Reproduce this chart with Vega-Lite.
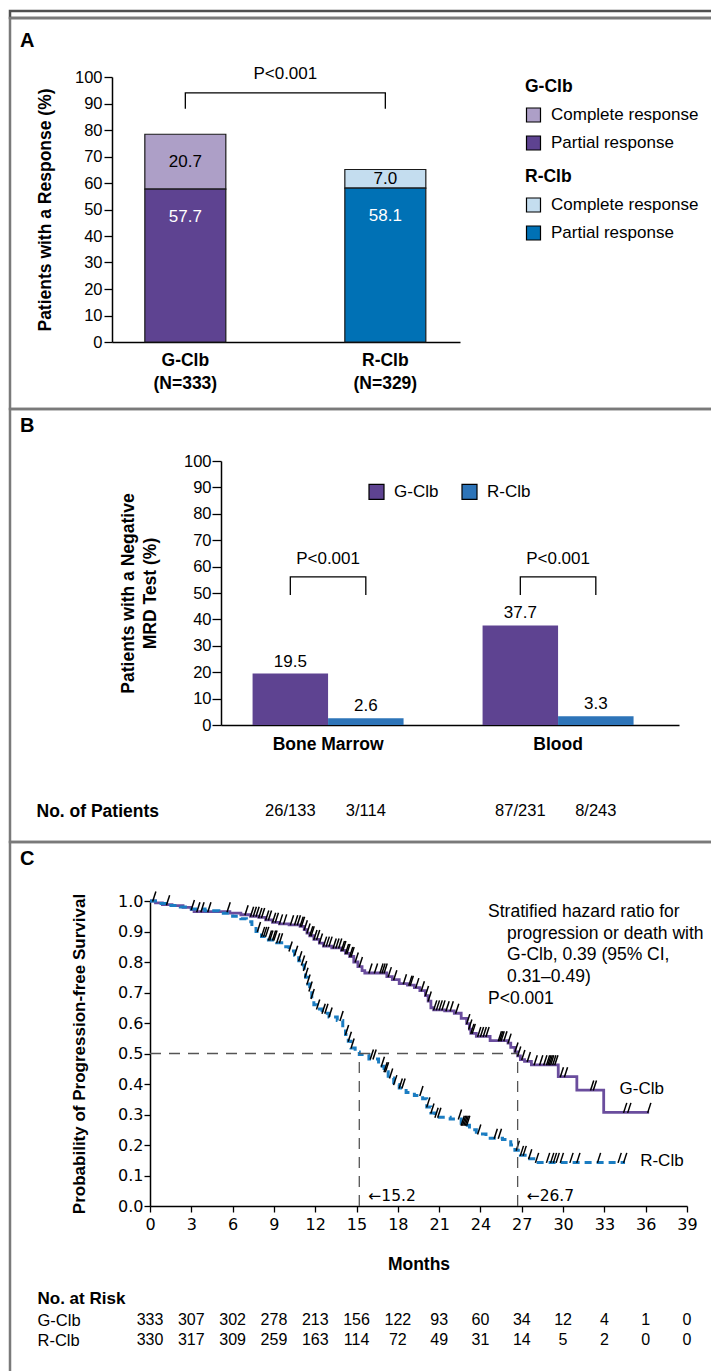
{
"$schema":"https://vega.github.io/schema/vega-lite/v6.json",
"background":"white",
"padding":{"left":8,"top":7,"right":0,"bottom":0},
"spacing":0,
"bounds":"flush",
"align":"each",
"config":{
 "font":"Liberation Sans",
 "view":{"stroke":"#7a7a7a","strokeWidth":2.5},
 "axis":{"grid":false,"domainColor":"#000","tickColor":"#000","labelColor":"#000","titleColor":"#000","domainWidth":1.5,"tickWidth":1.3,"labelFont":"Liberation Sans","titleFont":"Liberation Sans","labelFontSize":16.5,"labelOverlap":false,"labelFlush":false},
 "legend":{"labelFont":"Liberation Sans","titleFont":"Liberation Sans","labelColor":"#000","titleColor":"#000"},
 "title":{"font":"Liberation Sans","color":"#000"},
 "text":{"font":"Liberation Sans","color":"#000","baseline":"middle"}
},
"datasets":{
"km":[
{"arm":"G-Clb","t":0,"s":1,"c":0},{"arm":"G-Clb","t":0.3,"s":1,"c":1},{"arm":"G-Clb","t":0.4,"s":0.994,"c":0},{"arm":"G-Clb","t":0.9,"s":0.988,"c":0},{"arm":"G-Clb","t":1.3,"s":0.988,"c":1},{"arm":"G-Clb","t":1.6,"s":0.985,"c":0},{"arm":"G-Clb","t":2.4,"s":0.979,"c":0},{"arm":"G-Clb","t":3.0,"s":0.972,"c":0},{"arm":"G-Clb","t":3.1,"s":0.972,"c":1},{"arm":"G-Clb","t":3.2,"s":0.965,"c":0},{"arm":"G-Clb","t":3.5,"s":0.965,"c":1},{"arm":"G-Clb","t":3.8,"s":0.965,"c":1},{"arm":"G-Clb","t":4.3,"s":0.965,"c":1},{"arm":"G-Clb","t":5.7,"s":0.965,"c":1},{"arm":"G-Clb","t":5.8,"s":0.96,"c":0},{"arm":"G-Clb","t":6.6,"s":0.955,"c":0},{"arm":"G-Clb","t":7.0,"s":0.955,"c":1},{"arm":"G-Clb","t":7.3,"s":0.95,"c":0},{"arm":"G-Clb","t":7.4,"s":0.95,"c":1},{"arm":"G-Clb","t":7.6,"s":0.95,"c":1},{"arm":"G-Clb","t":7.8,"s":0.95,"c":1},{"arm":"G-Clb","t":7.9,"s":0.946,"c":0},{"arm":"G-Clb","t":8.0,"s":0.946,"c":1},{"arm":"G-Clb","t":8.2,"s":0.946,"c":1},{"arm":"G-Clb","t":8.4,"s":0.938,"c":0},{"arm":"G-Clb","t":8.5,"s":0.938,"c":1},{"arm":"G-Clb","t":8.7,"s":0.938,"c":1},{"arm":"G-Clb","t":8.9,"s":0.93,"c":0},{"arm":"G-Clb","t":9.0,"s":0.93,"c":1},{"arm":"G-Clb","t":9.2,"s":0.93,"c":1},{"arm":"G-Clb","t":9.4,"s":0.925,"c":0},{"arm":"G-Clb","t":9.5,"s":0.925,"c":1},{"arm":"G-Clb","t":9.8,"s":0.925,"c":1},{"arm":"G-Clb","t":10.1,"s":0.922,"c":0},{"arm":"G-Clb","t":10.3,"s":0.922,"c":1},{"arm":"G-Clb","t":10.6,"s":0.922,"c":1},{"arm":"G-Clb","t":10.8,"s":0.922,"c":1},{"arm":"G-Clb","t":10.9,"s":0.917,"c":0},{"arm":"G-Clb","t":11.0,"s":0.917,"c":1},{"arm":"G-Clb","t":11.1,"s":0.917,"c":1},{"arm":"G-Clb","t":11.2,"s":0.906,"c":0},{"arm":"G-Clb","t":11.3,"s":0.906,"c":1},{"arm":"G-Clb","t":11.4,"s":0.895,"c":0},{"arm":"G-Clb","t":11.5,"s":0.895,"c":1},{"arm":"G-Clb","t":11.6,"s":0.886,"c":0},{"arm":"G-Clb","t":11.7,"s":0.886,"c":1},{"arm":"G-Clb","t":11.8,"s":0.886,"c":1},{"arm":"G-Clb","t":11.9,"s":0.874,"c":0},{"arm":"G-Clb","t":12.0,"s":0.874,"c":1},{"arm":"G-Clb","t":12.2,"s":0.874,"c":1},{"arm":"G-Clb","t":12.3,"s":0.862,"c":0},{"arm":"G-Clb","t":12.4,"s":0.862,"c":1},{"arm":"G-Clb","t":12.6,"s":0.852,"c":0},{"arm":"G-Clb","t":12.7,"s":0.852,"c":1},{"arm":"G-Clb","t":12.9,"s":0.852,"c":1},{"arm":"G-Clb","t":13.1,"s":0.852,"c":1},{"arm":"G-Clb","t":13.2,"s":0.846,"c":0},{"arm":"G-Clb","t":13.4,"s":0.846,"c":1},{"arm":"G-Clb","t":13.6,"s":0.846,"c":1},{"arm":"G-Clb","t":13.8,"s":0.846,"c":1},{"arm":"G-Clb","t":13.9,"s":0.838,"c":0},{"arm":"G-Clb","t":14.0,"s":0.838,"c":1},{"arm":"G-Clb","t":14.1,"s":0.838,"c":1},{"arm":"G-Clb","t":14.2,"s":0.828,"c":0},{"arm":"G-Clb","t":14.3,"s":0.828,"c":1},{"arm":"G-Clb","t":14.4,"s":0.828,"c":1},{"arm":"G-Clb","t":14.5,"s":0.818,"c":0},{"arm":"G-Clb","t":14.6,"s":0.818,"c":1},{"arm":"G-Clb","t":14.7,"s":0.818,"c":1},{"arm":"G-Clb","t":14.8,"s":0.8,"c":0},{"arm":"G-Clb","t":15.0,"s":0.8,"c":1},{"arm":"G-Clb","t":15.1,"s":0.785,"c":0},{"arm":"G-Clb","t":15.3,"s":0.785,"c":1},{"arm":"G-Clb","t":15.4,"s":0.772,"c":0},{"arm":"G-Clb","t":15.6,"s":0.764,"c":0},{"arm":"G-Clb","t":16.0,"s":0.764,"c":1},{"arm":"G-Clb","t":16.4,"s":0.764,"c":1},{"arm":"G-Clb","t":16.8,"s":0.764,"c":1},{"arm":"G-Clb","t":16.95,"s":0.764,"c":1},{"arm":"G-Clb","t":17.1,"s":0.764,"c":1},{"arm":"G-Clb","t":17.2,"s":0.752,"c":0},{"arm":"G-Clb","t":17.4,"s":0.752,"c":1},{"arm":"G-Clb","t":17.6,"s":0.742,"c":0},{"arm":"G-Clb","t":17.8,"s":0.742,"c":1},{"arm":"G-Clb","t":18.1,"s":0.729,"c":0},{"arm":"G-Clb","t":18.5,"s":0.729,"c":1},{"arm":"G-Clb","t":18.7,"s":0.724,"c":0},{"arm":"G-Clb","t":18.9,"s":0.724,"c":1},{"arm":"G-Clb","t":19.0,"s":0.724,"c":1},{"arm":"G-Clb","t":19.2,"s":0.716,"c":0},{"arm":"G-Clb","t":19.4,"s":0.716,"c":1},{"arm":"G-Clb","t":19.6,"s":0.706,"c":0},{"arm":"G-Clb","t":19.8,"s":0.706,"c":1},{"arm":"G-Clb","t":20.0,"s":0.69,"c":0},{"arm":"G-Clb","t":20.1,"s":0.69,"c":1},{"arm":"G-Clb","t":20.2,"s":0.672,"c":0},{"arm":"G-Clb","t":20.3,"s":0.672,"c":1},{"arm":"G-Clb","t":20.4,"s":0.65,"c":0},{"arm":"G-Clb","t":20.6,"s":0.643,"c":0},{"arm":"G-Clb","t":20.7,"s":0.643,"c":1},{"arm":"G-Clb","t":20.9,"s":0.643,"c":1},{"arm":"G-Clb","t":21.1,"s":0.643,"c":1},{"arm":"G-Clb","t":21.3,"s":0.643,"c":1},{"arm":"G-Clb","t":21.4,"s":0.64,"c":0},{"arm":"G-Clb","t":21.6,"s":0.64,"c":1},{"arm":"G-Clb","t":21.9,"s":0.64,"c":1},{"arm":"G-Clb","t":22.1,"s":0.632,"c":0},{"arm":"G-Clb","t":22.3,"s":0.632,"c":1},{"arm":"G-Clb","t":22.6,"s":0.615,"c":0},{"arm":"G-Clb","t":23.0,"s":0.598,"c":0},{"arm":"G-Clb","t":23.1,"s":0.598,"c":1},{"arm":"G-Clb","t":23.2,"s":0.58,"c":0},{"arm":"G-Clb","t":23.25,"s":0.58,"c":1},{"arm":"G-Clb","t":23.3,"s":0.566,"c":0},{"arm":"G-Clb","t":23.4,"s":0.566,"c":1},{"arm":"G-Clb","t":23.5,"s":0.566,"c":1},{"arm":"G-Clb","t":23.7,"s":0.556,"c":0},{"arm":"G-Clb","t":23.9,"s":0.556,"c":1},{"arm":"G-Clb","t":24.1,"s":0.556,"c":1},{"arm":"G-Clb","t":24.3,"s":0.556,"c":1},{"arm":"G-Clb","t":24.5,"s":0.556,"c":1},{"arm":"G-Clb","t":24.7,"s":0.542,"c":0},{"arm":"G-Clb","t":25.4,"s":0.542,"c":1},{"arm":"G-Clb","t":25.5,"s":0.542,"c":1},{"arm":"G-Clb","t":25.6,"s":0.542,"c":1},{"arm":"G-Clb","t":25.8,"s":0.542,"c":1},{"arm":"G-Clb","t":26.0,"s":0.534,"c":0},{"arm":"G-Clb","t":26.1,"s":0.534,"c":1},{"arm":"G-Clb","t":26.2,"s":0.52,"c":0},{"arm":"G-Clb","t":26.5,"s":0.505,"c":0},{"arm":"G-Clb","t":26.6,"s":0.505,"c":1},{"arm":"G-Clb","t":26.7,"s":0.492,"c":0},{"arm":"G-Clb","t":26.8,"s":0.492,"c":1},{"arm":"G-Clb","t":26.9,"s":0.48,"c":0},{"arm":"G-Clb","t":27.1,"s":0.48,"c":1},{"arm":"G-Clb","t":27.2,"s":0.474,"c":0},{"arm":"G-Clb","t":27.5,"s":0.474,"c":1},{"arm":"G-Clb","t":27.7,"s":0.463,"c":0},{"arm":"G-Clb","t":28.0,"s":0.463,"c":1},{"arm":"G-Clb","t":28.4,"s":0.463,"c":1},{"arm":"G-Clb","t":28.7,"s":0.463,"c":1},{"arm":"G-Clb","t":28.9,"s":0.463,"c":1},{"arm":"G-Clb","t":29.0,"s":0.463,"c":1},{"arm":"G-Clb","t":29.1,"s":0.463,"c":1},{"arm":"G-Clb","t":29.2,"s":0.463,"c":1},{"arm":"G-Clb","t":29.35,"s":0.463,"c":1},{"arm":"G-Clb","t":29.5,"s":0.463,"c":1},{"arm":"G-Clb","t":29.65,"s":0.424,"c":0},{"arm":"G-Clb","t":29.9,"s":0.424,"c":1},{"arm":"G-Clb","t":30.2,"s":0.424,"c":1},{"arm":"G-Clb","t":31.0,"s":0.38,"c":0},{"arm":"G-Clb","t":32.1,"s":0.38,"c":1},{"arm":"G-Clb","t":32.3,"s":0.38,"c":1},{"arm":"G-Clb","t":32.95,"s":0.307,"c":0},{"arm":"G-Clb","t":34.5,"s":0.307,"c":1},{"arm":"G-Clb","t":34.8,"s":0.307,"c":1},{"arm":"G-Clb","t":36.25,"s":0.307,"c":1},
{"arm":"R-Clb","t":0,"s":1,"c":0},{"arm":"R-Clb","t":0.6,"s":0.992,"c":0},{"arm":"R-Clb","t":1.2,"s":0.985,"c":0},{"arm":"R-Clb","t":2.2,"s":0.98,"c":0},{"arm":"R-Clb","t":3.0,"s":0.974,"c":0},{"arm":"R-Clb","t":4.0,"s":0.968,"c":0},{"arm":"R-Clb","t":5.0,"s":0.96,"c":0},{"arm":"R-Clb","t":6.0,"s":0.95,"c":0},{"arm":"R-Clb","t":6.6,"s":0.942,"c":0},{"arm":"R-Clb","t":7.0,"s":0.932,"c":0},{"arm":"R-Clb","t":7.4,"s":0.915,"c":0},{"arm":"R-Clb","t":7.7,"s":0.9,"c":0},{"arm":"R-Clb","t":7.9,"s":0.9,"c":1},{"arm":"R-Clb","t":8.1,"s":0.884,"c":0},{"arm":"R-Clb","t":8.2,"s":0.884,"c":1},{"arm":"R-Clb","t":8.35,"s":0.884,"c":1},{"arm":"R-Clb","t":8.5,"s":0.884,"c":1},{"arm":"R-Clb","t":8.6,"s":0.872,"c":0},{"arm":"R-Clb","t":8.7,"s":0.872,"c":1},{"arm":"R-Clb","t":8.8,"s":0.872,"c":1},{"arm":"R-Clb","t":9.0,"s":0.872,"c":1},{"arm":"R-Clb","t":9.1,"s":0.872,"c":1},{"arm":"R-Clb","t":9.2,"s":0.863,"c":0},{"arm":"R-Clb","t":9.3,"s":0.863,"c":1},{"arm":"R-Clb","t":9.5,"s":0.863,"c":1},{"arm":"R-Clb","t":9.7,"s":0.85,"c":0},{"arm":"R-Clb","t":10.1,"s":0.836,"c":0},{"arm":"R-Clb","t":10.2,"s":0.836,"c":1},{"arm":"R-Clb","t":10.5,"s":0.822,"c":0},{"arm":"R-Clb","t":10.6,"s":0.822,"c":1},{"arm":"R-Clb","t":10.8,"s":0.804,"c":0},{"arm":"R-Clb","t":10.9,"s":0.804,"c":1},{"arm":"R-Clb","t":11.0,"s":0.79,"c":0},{"arm":"R-Clb","t":11.1,"s":0.79,"c":1},{"arm":"R-Clb","t":11.2,"s":0.772,"c":0},{"arm":"R-Clb","t":11.25,"s":0.772,"c":1},{"arm":"R-Clb","t":11.3,"s":0.75,"c":0},{"arm":"R-Clb","t":11.35,"s":0.75,"c":1},{"arm":"R-Clb","t":11.45,"s":0.728,"c":0},{"arm":"R-Clb","t":11.5,"s":0.728,"c":1},{"arm":"R-Clb","t":11.6,"s":0.705,"c":0},{"arm":"R-Clb","t":11.65,"s":0.705,"c":1},{"arm":"R-Clb","t":11.75,"s":0.68,"c":0},{"arm":"R-Clb","t":11.8,"s":0.68,"c":1},{"arm":"R-Clb","t":11.9,"s":0.66,"c":0},{"arm":"R-Clb","t":12.1,"s":0.646,"c":0},{"arm":"R-Clb","t":12.2,"s":0.646,"c":1},{"arm":"R-Clb","t":12.5,"s":0.632,"c":0},{"arm":"R-Clb","t":12.6,"s":0.632,"c":1},{"arm":"R-Clb","t":12.8,"s":0.632,"c":1},{"arm":"R-Clb","t":13.0,"s":0.62,"c":0},{"arm":"R-Clb","t":13.1,"s":0.62,"c":1},{"arm":"R-Clb","t":13.6,"s":0.608,"c":0},{"arm":"R-Clb","t":13.9,"s":0.608,"c":1},{"arm":"R-Clb","t":14.0,"s":0.585,"c":0},{"arm":"R-Clb","t":14.2,"s":0.562,"c":0},{"arm":"R-Clb","t":14.3,"s":0.562,"c":1},{"arm":"R-Clb","t":14.4,"s":0.54,"c":0},{"arm":"R-Clb","t":14.5,"s":0.54,"c":1},{"arm":"R-Clb","t":14.6,"s":0.518,"c":0},{"arm":"R-Clb","t":14.7,"s":0.518,"c":1},{"arm":"R-Clb","t":14.9,"s":0.505,"c":0},{"arm":"R-Clb","t":15.2,"s":0.497,"c":0},{"arm":"R-Clb","t":15.9,"s":0.482,"c":0},{"arm":"R-Clb","t":16.1,"s":0.482,"c":1},{"arm":"R-Clb","t":16.3,"s":0.482,"c":1},{"arm":"R-Clb","t":16.6,"s":0.458,"c":0},{"arm":"R-Clb","t":16.9,"s":0.458,"c":1},{"arm":"R-Clb","t":17.0,"s":0.44,"c":0},{"arm":"R-Clb","t":17.1,"s":0.44,"c":1},{"arm":"R-Clb","t":17.2,"s":0.44,"c":1},{"arm":"R-Clb","t":17.3,"s":0.42,"c":0},{"arm":"R-Clb","t":17.5,"s":0.42,"c":1},{"arm":"R-Clb","t":17.7,"s":0.398,"c":0},{"arm":"R-Clb","t":17.8,"s":0.398,"c":1},{"arm":"R-Clb","t":18.1,"s":0.387,"c":0},{"arm":"R-Clb","t":18.2,"s":0.387,"c":1},{"arm":"R-Clb","t":18.4,"s":0.387,"c":1},{"arm":"R-Clb","t":18.6,"s":0.372,"c":0},{"arm":"R-Clb","t":19.2,"s":0.362,"c":0},{"arm":"R-Clb","t":19.7,"s":0.362,"c":1},{"arm":"R-Clb","t":19.8,"s":0.352,"c":0},{"arm":"R-Clb","t":20.1,"s":0.325,"c":0},{"arm":"R-Clb","t":20.2,"s":0.325,"c":1},{"arm":"R-Clb","t":20.4,"s":0.305,"c":0},{"arm":"R-Clb","t":20.5,"s":0.305,"c":1},{"arm":"R-Clb","t":20.7,"s":0.291,"c":0},{"arm":"R-Clb","t":20.8,"s":0.291,"c":1},{"arm":"R-Clb","t":21.0,"s":0.291,"c":1},{"arm":"R-Clb","t":21.8,"s":0.285,"c":0},{"arm":"R-Clb","t":22.5,"s":0.285,"c":1},{"arm":"R-Clb","t":22.6,"s":0.265,"c":0},{"arm":"R-Clb","t":22.7,"s":0.265,"c":1},{"arm":"R-Clb","t":22.8,"s":0.265,"c":1},{"arm":"R-Clb","t":22.9,"s":0.265,"c":1},{"arm":"R-Clb","t":23.0,"s":0.265,"c":1},{"arm":"R-Clb","t":23.1,"s":0.265,"c":1},{"arm":"R-Clb","t":23.2,"s":0.25,"c":0},{"arm":"R-Clb","t":23.7,"s":0.236,"c":0},{"arm":"R-Clb","t":23.9,"s":0.236,"c":1},{"arm":"R-Clb","t":24.4,"s":0.222,"c":0},{"arm":"R-Clb","t":25.1,"s":0.222,"c":1},{"arm":"R-Clb","t":25.4,"s":0.222,"c":1},{"arm":"R-Clb","t":25.6,"s":0.218,"c":0},{"arm":"R-Clb","t":26.2,"s":0.2,"c":0},{"arm":"R-Clb","t":26.5,"s":0.183,"c":0},{"arm":"R-Clb","t":26.7,"s":0.183,"c":1},{"arm":"R-Clb","t":26.9,"s":0.166,"c":0},{"arm":"R-Clb","t":27.0,"s":0.166,"c":1},{"arm":"R-Clb","t":27.2,"s":0.166,"c":1},{"arm":"R-Clb","t":27.4,"s":0.155,"c":0},{"arm":"R-Clb","t":27.6,"s":0.155,"c":1},{"arm":"R-Clb","t":28.0,"s":0.143,"c":0},{"arm":"R-Clb","t":28.1,"s":0.143,"c":1},{"arm":"R-Clb","t":28.9,"s":0.143,"c":1},{"arm":"R-Clb","t":29.2,"s":0.143,"c":1},{"arm":"R-Clb","t":29.4,"s":0.143,"c":1},{"arm":"R-Clb","t":29.6,"s":0.143,"c":1},{"arm":"R-Clb","t":29.9,"s":0.143,"c":1},{"arm":"R-Clb","t":30.6,"s":0.143,"c":1},{"arm":"R-Clb","t":31.1,"s":0.143,"c":1},{"arm":"R-Clb","t":32.6,"s":0.143,"c":1},{"arm":"R-Clb","t":34.1,"s":0.143,"c":1},{"arm":"R-Clb","t":34.5,"s":0.143,"c":1}
],
"risk":[
{"arm":"G-Clb","t":0,"n":333},{"arm":"G-Clb","t":3,"n":307},{"arm":"G-Clb","t":6,"n":302},{"arm":"G-Clb","t":9,"n":278},{"arm":"G-Clb","t":12,"n":213},{"arm":"G-Clb","t":15,"n":156},{"arm":"G-Clb","t":18,"n":122},{"arm":"G-Clb","t":21,"n":93},{"arm":"G-Clb","t":24,"n":60},{"arm":"G-Clb","t":27,"n":34},{"arm":"G-Clb","t":30,"n":12},{"arm":"G-Clb","t":33,"n":4},{"arm":"G-Clb","t":36,"n":1},{"arm":"G-Clb","t":39,"n":0},
{"arm":"R-Clb","t":0,"n":330},{"arm":"R-Clb","t":3,"n":317},{"arm":"R-Clb","t":6,"n":309},{"arm":"R-Clb","t":9,"n":259},{"arm":"R-Clb","t":12,"n":163},{"arm":"R-Clb","t":15,"n":114},{"arm":"R-Clb","t":18,"n":72},{"arm":"R-Clb","t":21,"n":49},{"arm":"R-Clb","t":24,"n":31},{"arm":"R-Clb","t":27,"n":14},{"arm":"R-Clb","t":30,"n":5},{"arm":"R-Clb","t":33,"n":2},{"arm":"R-Clb","t":36,"n":0},{"arm":"R-Clb","t":39,"n":0}
]
},
"vconcat":[
{"width":703,"height":7,"view":{"stroke":"#505050","strokeWidth":2.5},"data":{"values":[{}]},"mark":{"type":"text","text":""},"encoding":{}},
{
 "width":703,"height":391,
 "title":{"text":"A","anchor":"start","frame":"group","baseline":"middle","offset":0,"dx":10,"dy":43,"fontSize":20,"fontWeight":"bold"},
 "data":{"values":[
  {"group":"G-Clb","type":"Complete response","value":20.7},
  {"group":"G-Clb","type":"Partial response","value":57.7},
  {"group":"R-Clb","type":"Complete response","value":7.0},
  {"group":"R-Clb","type":"Partial response","value":58.1}]},
 "layer":[
  {"transform":[{"filter":"datum.group == 'G-Clb'"}],
   "mark":{"type":"bar","stroke":"#1a1a1a","strokeWidth":1.2},
   "encoding":{
    "x":{"field":"group","type":"nominal","scale":{"domain":["G-Clb","R-Clb"],"range":[102,450],"paddingInner":0.595,"paddingOuter":0.1675,"align":0.49},
      "axis":{"orient":"bottom","offset":-67,"ticks":false,"tickSize":0,"labelPadding":9,"labelAngle":0,"labelFontSize":17.5,"labelFontWeight":"bold","labelLineHeight":23,"labelExpr":"datum.value == 'G-Clb' ? ['G-Clb', '(N=333)'] : ['R-Clb', '(N=329)']","title":null}},
    "y":{"field":"value","type":"quantitative","stack":"zero","scale":{"domain":[0,100],"range":[324,59],"nice":false},
      "axis":{"orient":"left","offset":-102,"values":[0,10,20,30,40,50,60,70,80,90,100],"tickCount":11,"tickSize":8,"labelPadding":2,"labelFontSize":16.5,"title":"Patients with a Response (%)","titleFontSize":17.5,"titleFontWeight":"bold","titleX":-67,"titleBaseline":"middle"}},
    "color":{"field":"type","type":"nominal","scale":{"domain":["Complete response","Partial response"],"range":["#ad9fc7","#5e4391"]},
      "legend":{"title":"G-Clb","orient":"none","legendX":515,"legendY":60,"symbolType":"square","symbolSize":196,"symbolStrokeColor":"#000","symbolStrokeWidth":1.2,"symbolOpacity":1,"labelFontSize":17,"titleFontSize":17.5,"titleFontWeight":"bold","rowPadding":9,"titlePadding":11,"labelOffset":9,"padding":0}},
    "order":{"field":"type","type":"nominal","sort":"descending"}}},
  {"transform":[{"filter":"datum.group == 'R-Clb'"}],
   "mark":{"type":"bar","stroke":"#1a1a1a","strokeWidth":1.2},
   "encoding":{
    "x":{"field":"group","type":"nominal","scale":{"domain":["G-Clb","R-Clb"],"range":[102,450],"paddingInner":0.595,"paddingOuter":0.1675,"align":0.49},
      "axis":{"orient":"bottom","offset":-67,"ticks":false,"tickSize":0,"labelPadding":9,"labelAngle":0,"labelFontSize":17.5,"labelFontWeight":"bold","labelLineHeight":23,"labelExpr":"datum.value == 'G-Clb' ? ['G-Clb', '(N=333)'] : ['R-Clb', '(N=329)']","title":null}},
    "y":{"field":"value","type":"quantitative","stack":"zero","scale":{"domain":[0,100],"range":[324,59],"nice":false},
      "axis":{"orient":"left","offset":-102,"values":[0,10,20,30,40,50,60,70,80,90,100],"tickCount":11,"tickSize":8,"labelPadding":2,"labelFontSize":16.5,"title":"Patients with a Response (%)","titleFontSize":17.5,"titleFontWeight":"bold","titleX":-67,"titleBaseline":"middle"}},
    "color":{"field":"type","type":"nominal","scale":{"domain":["Complete response","Partial response"],"range":["#c4ddef","#0071b5"]},
      "legend":{"title":"R-Clb","orient":"none","legendX":515,"legendY":150,"symbolType":"square","symbolSize":196,"symbolStrokeColor":"#000","symbolStrokeWidth":1.2,"symbolOpacity":1,"labelFontSize":17,"titleFontSize":17.5,"titleFontWeight":"bold","rowPadding":9,"titlePadding":11,"labelOffset":9,"padding":0}},
    "order":{"field":"type","type":"nominal","sort":"descending"}}},
  {"transform":[{"stack":"value","groupby":["group"],"sort":[{"field":"type","order":"descending"}],"as":["v0","v1"]},{"filter":"datum.type == 'Complete response'"},{"calculate":"(datum.v0 + datum.v1) / 2","as":"mid"}],
   "mark":{"type":"text","fontSize":17},
   "encoding":{
    "x":{"field":"group","type":"nominal","scale":{"domain":["G-Clb","R-Clb"],"range":[102,450],"paddingInner":0.595,"paddingOuter":0.1675,"align":0.49}},
    "y":{"field":"mid","type":"quantitative","scale":{"domain":[0,100],"range":[324,59],"nice":false}},
    "text":{"field":"value","type":"quantitative","format":".1f"}}},
  {"transform":[{"filter":"datum.type == 'Partial response'"}],
   "mark":{"type":"text","fontSize":17,"color":"white","dy":28},
   "encoding":{
    "x":{"field":"group","type":"nominal","scale":{"domain":["G-Clb","R-Clb"],"range":[102,450],"paddingInner":0.595,"paddingOuter":0.1675,"align":0.49}},
    "y":{"field":"value","type":"quantitative","scale":{"domain":[0,100],"range":[324,59],"nice":false}},
    "text":{"field":"value","type":"quantitative","format":".1f"}}},
  {"data":{"values":[{"group":"G-Clb","y":88,"k":1},{"group":"G-Clb","y":94,"k":2},{"group":"R-Clb","y":94,"k":3},{"group":"R-Clb","y":88,"k":4}]},
   "mark":{"type":"line","color":"#000","strokeWidth":1.3},
   "encoding":{
    "x":{"field":"group","type":"nominal","scale":{"domain":["G-Clb","R-Clb"],"range":[102,450],"paddingInner":0.595,"paddingOuter":0.1675,"align":0.49}},
    "y":{"field":"y","type":"quantitative","scale":{"domain":[0,100],"range":[324,59],"nice":false}},
    "order":{"field":"k","type":"quantitative"}}},
  {"data":{"values":[{"group":"G-Clb"}]},
   "mark":{"type":"text","text":"P<0.001","fontSize":17,"dx":100},
   "encoding":{
    "x":{"field":"group","type":"nominal","scale":{"domain":["G-Clb","R-Clb"],"range":[102,450],"paddingInner":0.595,"paddingOuter":0.1675,"align":0.49}},
    "y":{"datum":101.1,"type":"quantitative","scale":{"domain":[0,100],"range":[324,59],"nice":false}}}}
 ],
 "resolve":{"scale":{"color":"independent"}}
},
{
 "width":703,"height":433,
 "title":{"text":"B","anchor":"start","frame":"group","baseline":"middle","offset":0,"dx":10,"dy":36.5,"fontSize":20,"fontWeight":"bold"},
 "data":{"values":[
  {"group":"Bone Marrow","bar":"G-Clb","value":19.5,"n":"26/133"},
  {"group":"Bone Marrow","bar":"R-Clb","value":2.6,"n":"3/114"},
  {"group":"Blood","bar":"G-Clb","value":37.7,"n":"87/231"},
  {"group":"Blood","bar":"R-Clb","value":3.3,"n":"8/243"}]},
 "layer":[
  {"mark":{"type":"bar"},
   "encoding":{
    "x":{"field":"group","type":"nominal","scale":{"domain":["Bone Marrow","Blood"],"range":[211,669],"paddingInner":0.3435,"paddingOuter":0.1674,"align":0.41},
      "axis":{"orient":"bottom","offset":-117,"ticks":false,"tickSize":0,"labelPadding":10,"labelAngle":0,"labelFontSize":17.5,"labelFontWeight":"bold","title":"No. of Patients","titleFontSize":17.5,"titleFontWeight":"bold","titleX":26,"titleY":86,"titleAlign":"left","titleBaseline":"middle","titleAnchor":"start"}},
    "xOffset":{"field":"bar","type":"nominal","scale":{"domain":["G-Clb","R-Clb"],"paddingInner":0,"paddingOuter":0}},
    "y":{"field":"value","type":"quantitative","stack":null,"scale":{"domain":[0,100],"range":[316,52],"nice":false},
      "axis":{"orient":"left","offset":-211,"values":[0,10,20,30,40,50,60,70,80,90,100],"tickSize":9,"labelPadding":1,"labelFontSize":16.5,"title":["Patients with a Negative","MRD Test (%)"],"titleFontSize":17.5,"titleFontWeight":"bold","titleLineHeight":22,"titleX":-93,"titleBaseline":"middle"}},
    "color":{"field":"bar","type":"nominal","scale":{"domain":["G-Clb","R-Clb"],"range":["#5e4391","#2d74b8"]},
      "legend":{"title":null,"orient":"none","legendX":358,"legendY":472,"direction":"horizontal","symbolType":"square","symbolSize":225,"symbolStrokeColor":"#000","symbolStrokeWidth":1.2,"symbolOpacity":1,"labelFontSize":17,"columnPadding":20,"labelOffset":9,"padding":0}}}},
  {"mark":{"type":"text","fontSize":17,"baseline":"bottom","dy":-3},
   "encoding":{
    "x":{"field":"group","type":"nominal","scale":{"domain":["Bone Marrow","Blood"],"range":[211,669],"paddingInner":0.3435,"paddingOuter":0.1674,"align":0.41}},
    "xOffset":{"field":"bar","type":"nominal","scale":{"domain":["G-Clb","R-Clb"],"paddingInner":0,"paddingOuter":0}},
    "y":{"field":"value","type":"quantitative","scale":{"domain":[0,100],"range":[316,52],"nice":false}},
    "text":{"field":"value","type":"quantitative","format":".1f"}}},
  {"mark":{"type":"text","fontSize":16.5},
   "encoding":{
    "x":{"field":"group","type":"nominal","scale":{"domain":["Bone Marrow","Blood"],"range":[211,669],"paddingInner":0.3435,"paddingOuter":0.1674,"align":0.41}},
    "xOffset":{"field":"bar","type":"nominal","scale":{"domain":["G-Clb","R-Clb"],"paddingInner":0,"paddingOuter":0}},
    "y":{"datum":-32.6,"type":"quantitative","scale":{"domain":[0,100],"range":[316,52],"nice":false}},
    "text":{"field":"n","type":"nominal"}}},
  {"data":{"values":[
    {"group":"Bone Marrow","bar":"G-Clb","y":49.2,"k":1},{"group":"Bone Marrow","bar":"G-Clb","y":56.1,"k":2},{"group":"Bone Marrow","bar":"R-Clb","y":56.1,"k":3},{"group":"Bone Marrow","bar":"R-Clb","y":49.2,"k":4},
    {"group":"Blood","bar":"G-Clb","y":49.2,"k":1},{"group":"Blood","bar":"G-Clb","y":56.1,"k":2},{"group":"Blood","bar":"R-Clb","y":56.1,"k":3},{"group":"Blood","bar":"R-Clb","y":49.2,"k":4}]},
   "mark":{"type":"line","color":"#000","strokeWidth":1.3},
   "encoding":{
    "x":{"field":"group","type":"nominal","scale":{"domain":["Bone Marrow","Blood"],"range":[211,669],"paddingInner":0.3435,"paddingOuter":0.1674,"align":0.41}},
    "xOffset":{"field":"bar","type":"nominal","scale":{"domain":["G-Clb","R-Clb"],"paddingInner":0,"paddingOuter":0}},
    "y":{"field":"y","type":"quantitative","scale":{"domain":[0,100],"range":[316,52],"nice":false}},
    "detail":{"field":"group","type":"nominal"},
    "order":{"field":"k","type":"quantitative"}}},
  {"data":{"values":[{"group":"Bone Marrow"},{"group":"Blood"}]},
   "mark":{"type":"text","text":"P<0.001","fontSize":17},
   "encoding":{
    "x":{"field":"group","type":"nominal","scale":{"domain":["Bone Marrow","Blood"],"range":[211,669],"paddingInner":0.3435,"paddingOuter":0.1674,"align":0.41}},
    "y":{"datum":62.9,"type":"quantitative","scale":{"domain":[0,100],"range":[316,52],"nice":false}}}}
 ]
},
{
 "width":703,"height":533,
 "title":{"text":"C","anchor":"start","frame":"group","baseline":"middle","offset":0,"dx":10,"dy":36.5,"fontSize":20,"fontWeight":"bold"},
 "layer":[
  {"data":{"name":"km"},
   "layer":[
    {"transform":[{"filter":"datum.arm == 'G-Clb'"}],
     "mark":{"type":"line","interpolate":"step-after","color":"#6a4d9d","strokeWidth":2.8},
     "encoding":{
      "x":{"field":"t","type":"quantitative","scale":{"domain":[0,39],"range":[140,677],"nice":false,"zero":false},
        "axis":{"orient":"bottom","offset":-169,"values":[0,3,6,9,12,15,18,21,24,27,30,33,36,39],"tickSize":6,"labelPadding":4,"labelFont":"DejaVu Sans","labelFontSize":16,"title":"Months","titleFontSize":17.5,"titleFontWeight":"bold","titleY":58,"titleBaseline":"middle"}},
      "y":{"field":"s","type":"quantitative","scale":{"domain":[0,1],"range":[364,59],"nice":false},
        "axis":{"orient":"left","offset":-140,"values":[0,0.1,0.2,0.3,0.4,0.5,0.6,0.7,0.8,0.9,1],"format":".1f","tickSize":6,"labelPadding":1,"labelFont":"DejaVu Sans","labelFontSize":16,"title":"Probability of Progression-free Survival","titleFontSize":17,"titleFontWeight":"bold","titleX":-71,"titleBaseline":"middle"}}}},
    {"transform":[{"filter":"datum.arm == 'R-Clb'"}],
     "mark":{"type":"line","interpolate":"step-after","color":"#1b7dc2","strokeWidth":3,"strokeDash":[7,5]},
     "encoding":{
      "x":{"field":"t","type":"quantitative","scale":{"domain":[0,39],"range":[140,677],"nice":false,"zero":false}},
      "y":{"field":"s","type":"quantitative","scale":{"domain":[0,1],"range":[364,59],"nice":false}}}},
    {"transform":[{"filter":"datum.c == 1"}],
     "mark":{"type":"point","shape":"M -0.3 0.1 L 0.35 -1.9","filled":false,"color":"#000","strokeWidth":1.5,"size":100,"opacity":1},
     "encoding":{
      "x":{"field":"t","type":"quantitative","scale":{"domain":[0,39],"range":[140,677],"nice":false,"zero":false}},
      "y":{"field":"s","type":"quantitative","scale":{"domain":[0,1],"range":[364,59],"nice":false}}}},
    {"data":{"values":[{"arm":"R-Clb","m":15.2,"lo":0,"hi":0.5},{"arm":"G-Clb","m":26.7,"lo":0,"hi":0.5}]},
     "mark":{"type":"rule","color":"#555","strokeWidth":1.3,"strokeDash":[11,8]},
     "encoding":{
      "x":{"field":"m","type":"quantitative","scale":{"domain":[0,39],"range":[140,677],"nice":false,"zero":false}},
      "y":{"field":"lo","type":"quantitative","scale":{"domain":[0,1],"range":[364,59],"nice":false}},
      "y2":{"field":"hi"}}},
    {"data":{"values":[{"arm":"G-Clb","m":26.7,"start":0,"level":0.5}]},
     "mark":{"type":"rule","color":"#555","strokeWidth":1.3,"strokeDash":[11,8]},
     "encoding":{
      "x":{"field":"start","type":"quantitative","scale":{"domain":[0,39],"range":[140,677],"nice":false,"zero":false}},
      "x2":{"field":"m"},
      "y":{"field":"level","type":"quantitative","scale":{"domain":[0,1],"range":[364,59],"nice":false}}}},
    {"data":{"values":[{"arm":"R-Clb","m":15.2},{"arm":"G-Clb","m":26.7}]},
     "transform":[{"calculate":"'\u2190' + format(datum.m, '.1f')","as":"lab"}],
     "mark":{"type":"text","align":"left","font":"DejaVu Sans","fontSize":15.5,"dx":9},
     "encoding":{
      "x":{"field":"m","type":"quantitative","scale":{"domain":[0,39],"range":[140,677],"nice":false,"zero":false}},
      "y":{"datum":0.033,"type":"quantitative","scale":{"domain":[0,1],"range":[364,59],"nice":false}},
      "text":{"field":"lab","type":"nominal"}}},
    {"data":{"values":[{}]},"mark":{"type":"text","text":"Stratified hazard ratio for","align":"left","fontSize":17.5},
     "encoding":{"x":{"datum":24.55,"type":"quantitative","scale":{"domain":[0,39],"range":[140,677],"nice":false,"zero":false}},"y":{"datum":0.964,"type":"quantitative","scale":{"domain":[0,1],"range":[364,59],"nice":false}}}},
    {"data":{"values":[{}]},"mark":{"type":"text","text":"progression or death with","align":"left","fontSize":17.5},
     "encoding":{"x":{"datum":25.93,"type":"quantitative","scale":{"domain":[0,39],"range":[140,677],"nice":false,"zero":false}},"y":{"datum":0.893,"type":"quantitative","scale":{"domain":[0,1],"range":[364,59],"nice":false}}}},
    {"data":{"values":[{}]},"mark":{"type":"text","text":"G-Clb, 0.39 (95% CI,","align":"left","fontSize":17.5},
     "encoding":{"x":{"datum":25.93,"type":"quantitative","scale":{"domain":[0,39],"range":[140,677],"nice":false,"zero":false}},"y":{"datum":0.822,"type":"quantitative","scale":{"domain":[0,1],"range":[364,59],"nice":false}}}},
    {"data":{"values":[{}]},"mark":{"type":"text","text":"0.31\u20130.49)","align":"left","fontSize":17.5},
     "encoding":{"x":{"datum":25.93,"type":"quantitative","scale":{"domain":[0,39],"range":[140,677],"nice":false,"zero":false}},"y":{"datum":0.75,"type":"quantitative","scale":{"domain":[0,1],"range":[364,59],"nice":false}}}},
    {"data":{"values":[{}]},"mark":{"type":"text","text":"P<0.001","align":"left","fontSize":17.5},
     "encoding":{"x":{"datum":24.55,"type":"quantitative","scale":{"domain":[0,39],"range":[140,677],"nice":false,"zero":false}},"y":{"datum":0.679,"type":"quantitative","scale":{"domain":[0,1],"range":[364,59],"nice":false}}}},
    {"data":{"values":[{}]},"mark":{"type":"text","text":"G-Clb","align":"left","fontSize":17},
     "encoding":{"x":{"datum":34.1,"type":"quantitative","scale":{"domain":[0,39],"range":[140,677],"nice":false,"zero":false}},"y":{"datum":0.384,"type":"quantitative","scale":{"domain":[0,1],"range":[364,59],"nice":false}}}},
    {"data":{"values":[{}]},"mark":{"type":"text","text":"R-Clb","align":"left","fontSize":17},
     "encoding":{"x":{"datum":35.6,"type":"quantitative","scale":{"domain":[0,39],"range":[140,677],"nice":false,"zero":false}},"y":{"datum":0.148,"type":"quantitative","scale":{"domain":[0,1],"range":[364,59],"nice":false}}}}
   ]},
  {"data":{"name":"risk"},
   "mark":{"type":"text","fontSize":16},
   "encoding":{
    "x":{"field":"t","type":"quantitative","scale":{"domain":[0,39],"range":[140,677],"nice":false,"zero":false}},
    "y":{"field":"arm","type":"nominal","scale":{"type":"point","domain":["G-Clb","R-Clb"],"range":[478,498],"padding":0},
      "axis":{"orient":"left","offset":-27,"domain":false,"ticks":false,"tickSize":0,"labelPadding":0,"labelAlign":"left","labelBaseline":"middle","labelFontSize":16.5,"title":"No. at Risk","titleAngle":0,"titleAlign":"left","titleBaseline":"middle","titleX":0,"titleY":456,"titleFontSize":17,"titleFontWeight":"bold"}},
    "text":{"field":"n","type":"quantitative"}}}
 ],
 "resolve":{"scale":{"y":"independent"}}
}
]
}
